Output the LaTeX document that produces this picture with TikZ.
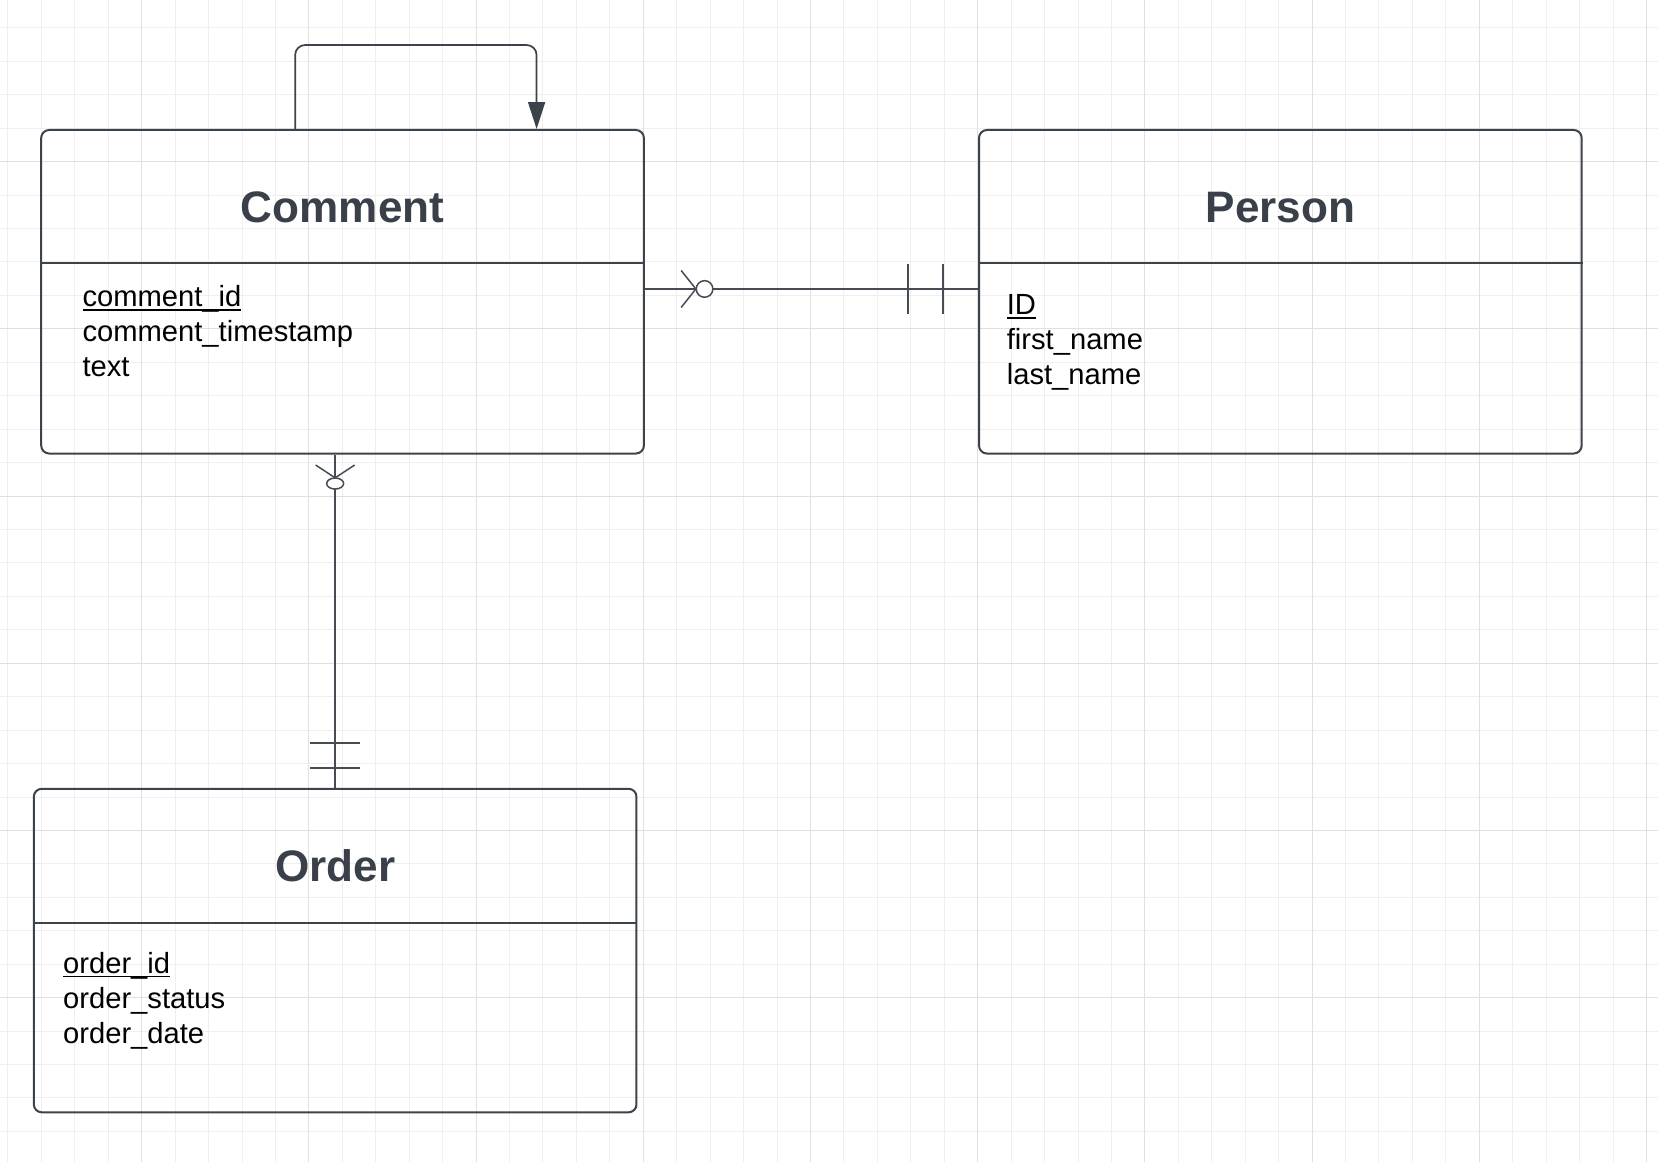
\documentclass[tikz,border=0pt]{standalone}
\usepackage{fontspec}
\setmainfont{Liberation Sans}
\usepackage{xcolor}
\usepackage{tikz}
\usetikzlibrary{positioning, arrows.meta, calc}
\definecolor{eLine}{HTML}{3D434B}
\definecolor{tInk}{HTML}{3A4049}
\definecolor{rLine}{HTML}{474C54}
\definecolor{gMinor}{HTML}{EFEFEF}
\definecolor{gMajor}{HTML}{E0E0E0}
\newcommand{\keyattr}[1]{\setbox0=\hbox{#1}\leavevmode\rlap{\rule[-0.14em]{\wd0}{0.06em}}\box0}
\tikzset{
  entity/.style={draw=eLine, line width=0.04cm, rounded corners=0.16cm,
    minimum width=12.056cm, minimum height=6.472cm, inner sep=0pt},
  sepline/.style={draw=eLine, line width=0.035cm},
  etitle/.style={font=\fontsize{25.1}{29}\selectfont\bfseries, text=tInk, inner sep=0pt},
  attr/.style={font=\fontsize{16.6}{19.6}\selectfont, text=black, inner sep=0pt, anchor=base west},
  relline/.style={draw=rLine, line width=0.03cm},
  loopline/.style={draw=eLine, line width=0.035cm},
  gridminor/.style={draw=gMinor, line width=0.02cm},
  gridmajor/.style={draw=gMajor, line width=0.02cm},
}
\begin{document}
\begin{tikzpicture}[x=0.02cm, y=0.02cm]
        \useasboundingbox (0,0) rectangle (1658,-1162);
        \fill[white] (0,0) rectangle (1658,-1162);
        % background grid
        \foreach \i in {0,...,49} \draw[gridminor] ({7.94+33.44*\i},0) -- ({7.94+33.44*\i},-1162);
        \foreach \i in {0,...,34} \draw[gridminor] (0,{-27.9-33.44*\i}) -- (1658,{-27.9-33.44*\i});
        \foreach \i in {0,...,9} \draw[gridmajor] ({141.7+167.2*\i},0) -- ({141.7+167.2*\i},-1162);
        \foreach \i in {0,...,6} \draw[gridmajor] (0,{-161.7-167.2*\i}) -- (1658,{-161.7-167.2*\i});
        % entities
        \node[entity, anchor=north west] (comment) at (40.2,-129) {};
        \node[entity, anchor=north west] (person) at (978,-129) {};
        \node[entity, anchor=north west] (order) at (32.8,-787.8) {};
        \draw[sepline] ([yshift=-2.686cm]comment.north west) -- ([yshift=-2.686cm]comment.north east);
        \draw[sepline] ([yshift=-2.686cm]person.north west) -- ([yshift=-2.686cm]person.north east);
        \draw[sepline] ([yshift=-2.7cm]order.north west) -- ([yshift=-2.7cm]order.north east);
        \node[etitle, anchor=base] (commentTitle) at ([yshift=-1.88cm]comment.north) {Comment};
        \node[etitle, anchor=base] (personTitle) at ([yshift=-1.88cm]person.north) {Person};
        \node[etitle, anchor=base] (orderTitle) at ([yshift=-1.88cm]order.north) {Order};
        % attributes
        \node[attr] (c1) at ([shift={(0.84cm,-3.56cm)}]comment.north west) {\keyattr{comment\_id}};
        \node[attr] (c2) at ([yshift=-0.70cm]c1.base west) {comment\_timestamp};
        \node[attr] (c3) at ([yshift=-0.70cm]c2.base west) {text};
        \node[attr] (p1) at ([shift={(0.57cm,-3.71cm)}]person.north west) {\keyattr{ID}};
        \node[attr] (p2) at ([yshift=-0.70cm]p1.base west) {first\_name};
        \node[attr] (p3) at ([yshift=-0.70cm]p2.base west) {last\_name};
        \node[attr] (o1) at ([shift={(0.60cm,-3.71cm)}]order.north west) {\keyattr{order\_id}};
        \node[attr] (o2) at ([yshift=-0.70cm]o1.base west) {order\_status};
        \node[attr] (o3) at ([yshift=-0.70cm]o2.base west) {order\_date};
        % comment -- person
        \coordinate (cpA) at ([yshift=-3.2cm]comment.north east);
        \coordinate (cpB) at (cpA -| person.west);
        \draw[relline] (cpA) -- (cpB);
        \draw[relline] ([shift={(0.726cm,0.37cm)}]cpA) -- ([xshift=1.02cm]cpA) -- ([shift={(0.726cm,-0.37cm)}]cpA);
        \draw[relline, fill=white] ([xshift=1.194cm]cpA) circle (0.166cm);
        \draw[relline] ([shift={(-1.4cm,0.5cm)}]cpB) -- ([shift={(-1.4cm,-0.5cm)}]cpB);
        \draw[relline] ([shift={(-0.7cm,0.5cm)}]cpB) -- ([shift={(-0.7cm,-0.5cm)}]cpB);
        % comment -- order
        \coordinate (coA) at (order.north |- comment.south);
        \draw[relline] (coA) -- (order.north);
        \draw[relline] ([shift={(-0.39cm,-0.21cm)}]coA) -- ([yshift=-0.466cm]coA) -- ([shift={(0.39cm,-0.21cm)}]coA);
        \draw[relline, fill=white] ([yshift=-0.58cm]coA) ellipse (0.17cm and 0.11cm);
        \draw[relline] ([shift={(-0.5cm,0.9cm)}]order.north) -- ([shift={(0.5cm,0.9cm)}]order.north);
        \draw[relline] ([shift={(-0.5cm,0.4cm)}]order.north) -- ([shift={(0.5cm,0.4cm)}]order.north);
        % self relation
        \draw[loopline, rounded corners=0.2cm, -{Triangle[length=0.54cm, width=0.34cm]}]
          ([xshift=5.1cm]comment.north west) -- ++(0,1.68cm) -| ([xshift=9.93cm]comment.north west);
      \end{tikzpicture}
\end{document}
